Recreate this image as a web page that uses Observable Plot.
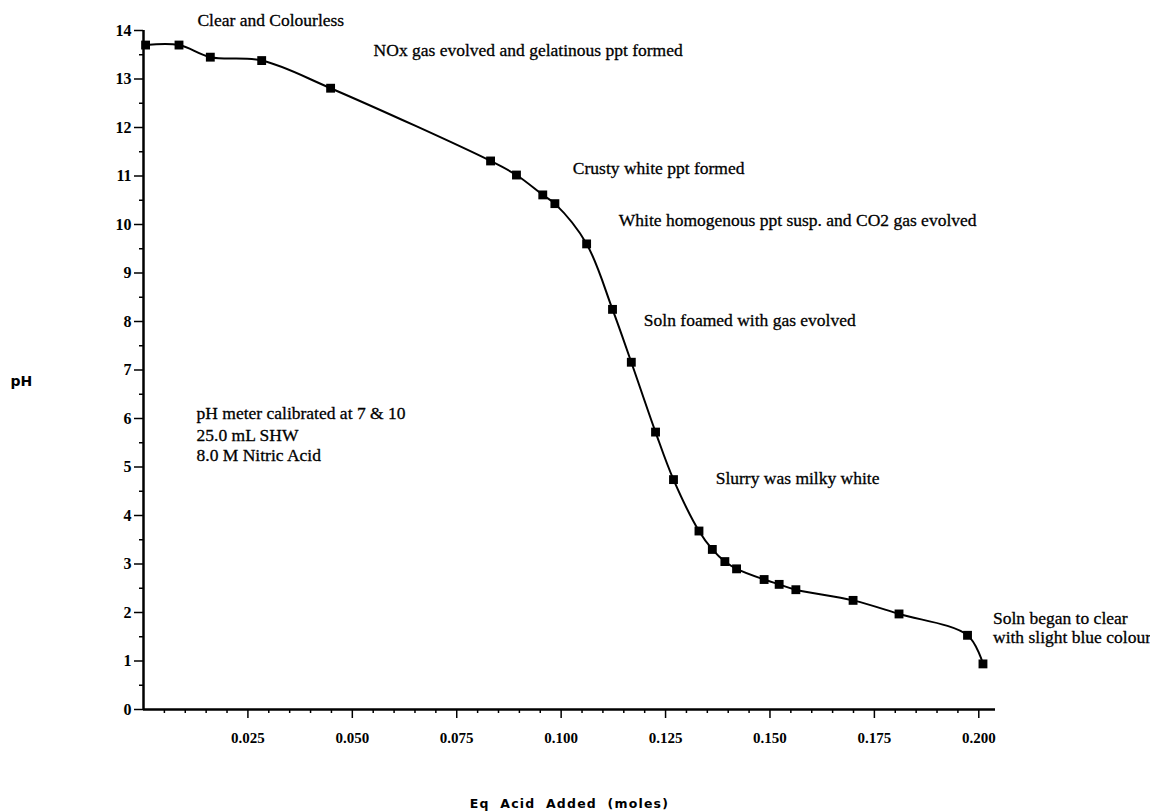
<!DOCTYPE html>
<html>
<head>
<meta charset="utf-8">
<script src="https://cdn.jsdelivr.net/npm/d3@7"></script>
<script src="https://cdn.jsdelivr.net/npm/@observablehq/plot@0.6"></script>
<style>
  html, body { margin: 0; padding: 0; background: #fff; overflow: hidden; }
  #chart svg { display: block; }
</style>
</head>
<body>
<div id="chart"></div>
<script>
// Eq acid added (moles)
const acidAdded = [0.0005, 0.0085, 0.016, 0.0283, 0.0448, 0.0831, 0.0893, 0.0956, 0.0985,
  0.1061, 0.1123, 0.1168, 0.1226, 0.1269, 0.1330, 0.1362, 0.1392, 0.1420, 0.1486, 0.1522,
  0.1562, 0.1699, 0.1809, 0.1973, 0.2010];
// pH readings
const phValues = [13.70, 13.70, 13.45, 13.38, 12.81, 11.31, 11.02, 10.61, 10.43,
  9.60, 8.25, 7.16, 5.72, 4.74, 3.68, 3.30, 3.05, 2.90, 2.68, 2.58,
  2.47, 2.25, 1.97, 1.53, 0.94];

// Observation notes
const noteText = ["Clear and Colourless", "NOx gas evolved and gelatinous ppt formed",
  "Crusty white ppt formed", "White homogenous ppt susp. and CO2 gas evolved",
  "Soln foamed with gas evolved", "Slurry was milky white",
  "Soln began to clear", "with slight blue colour",
  "pH meter calibrated at 7 & 10", "25.0 mL SHW", "8.0 M Nitric Acid"];
const noteX = [0.0129, 0.0551, 0.1028, 0.1138, 0.1198, 0.1370, 0.2034, 0.2034, 0.0127, 0.0127, 0.0127];
const noteY = [14.21, 13.59, 11.15, 10.08, 8.02, 4.76, 1.88, 1.48, 6.10, 5.65, 5.24];

// Tick labels
const xMajorTicks = [0.025, 0.05, 0.075, 0.1, 0.125, 0.15, 0.175, 0.2];
const xMinorTicks = d3.range(0, 41).map(i => i * 0.005).filter(v => Math.round(v * 1000) % 25 !== 0);
const yMajorTicks = d3.range(0, 15);
const yMinorTicks = d3.range(0, 14).map(v => v + 0.5);

const xTitle = "Eq Acid Added (moles)";
const yTitle = "pH";

const points = acidAdded.map((x, i) => ({x, y: phValues[i]}));
const notes = noteText.map((t, i) => ({t, x: noteX[i], y: noteY[i]}));

const serif = "'Liberation Serif', 'Times New Roman', serif";

const chart = Plot.plot({
  width: 1150,
  height: 811,
  marginLeft: 143,
  marginRight: 155,
  marginTop: 30,
  marginBottom: 102,
  style: {fontFamily: serif, background: "#fff", color: "#000", overflow: "visible"},
  x: {domain: [0, 0.204]},
  y: {domain: [0, 14]},
  marks: [
    Plot.axisX({ticks: xMinorTicks, tickSize: 4, strokeWidth: 1.5, text: null, label: null}),
    Plot.axisX({ticks: xMajorTicks, tickSize: 9, strokeWidth: 1.5, tickPadding: 14, tickFormat: d3.format(".3f"),
      fontFamily: serif, fontSize: 15, fontWeight: "bold", label: null}),
    Plot.axisY({ticks: yMinorTicks, tickSize: 4, strokeWidth: 1.5, text: null, label: null}),
    Plot.axisY({ticks: yMajorTicks, tickSize: 9, strokeWidth: 1.5, tickPadding: 3,
      fontFamily: serif, fontSize: 16, fontWeight: "bold", label: null}),
    Plot.ruleY([0], {stroke: "#000", strokeWidth: 2.5}),
    Plot.ruleX([0], {stroke: "#000", strokeWidth: 2.5}),
    Plot.line(points, {x: "x", y: "y", curve: "catmull-rom", stroke: "#000", strokeWidth: 2}),
    Plot.dot(points, {x: "x", y: "y", symbol: "square", r: 5, fill: "#000", stroke: null}),
    Plot.text(notes, {x: "x", y: "y", text: "t", textAnchor: "start", fontFamily: serif, fontSize: 17.5,
      fill: "#000", stroke: "#000", strokeWidth: 0.3}),
    Plot.text([xTitle], {frameAnchor: "bottom", lineAnchor: "middle", dy: 94,
      fontFamily: "'DejaVu Sans', sans-serif", fontWeight: "bold", fontSize: 12.5, fill: "#000"}),
    Plot.text([yTitle], {frameAnchor: "left", textAnchor: "start", dx: -133, dy: 12,
      fontFamily: "'DejaVu Sans', sans-serif", fontWeight: "bold", fontSize: 14, fill: "#000"})
  ]
});
d3.select(chart).selectAll("text")
  .filter(function() { return this.textContent === xTitle; })
  .attr("letter-spacing", "1.2px")
  .attr("word-spacing", "5px");
document.getElementById("chart").appendChild(chart);
</script>
</body>
</html>
